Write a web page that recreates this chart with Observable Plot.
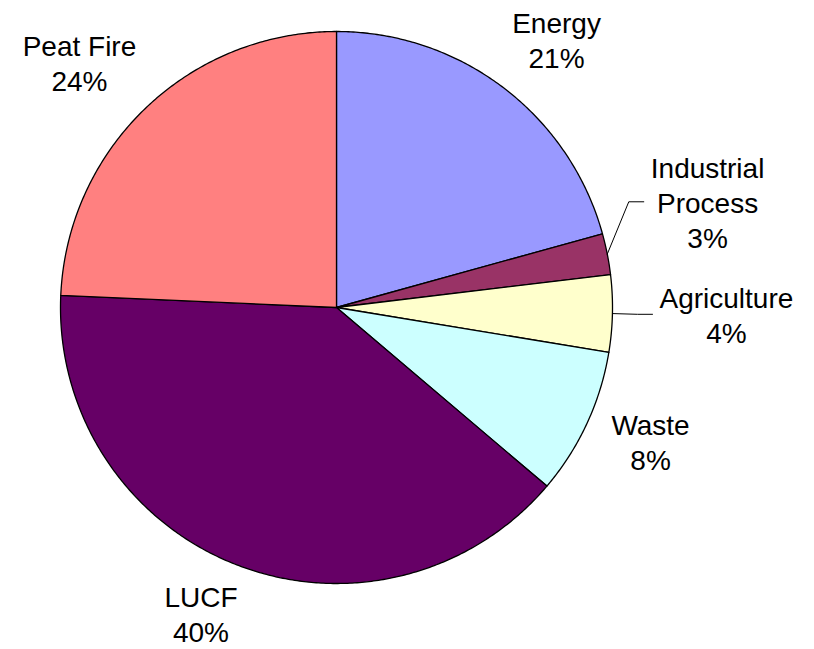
<!DOCTYPE html>
<html>
<head>
<meta charset="utf-8">
<script src="https://cdn.jsdelivr.net/npm/d3@7"></script>
<script src="https://cdn.jsdelivr.net/npm/@observablehq/plot@0.6"></script>
<style>
  html, body { margin: 0; padding: 0; background: #fff; }
  svg { display: block; }
</style>
</head>
<body>
<div id="chart"></div>
<script>
// ---- data ----
const slices = ["Energy", "Industrial\nProcess", "Agriculture", "Waste", "LUCF", "Peat Fire"];
const shares = [20.7, 2.4, 4.5, 8.6, 39.5, 24.3];
const percentLabels = ["21%", "3%", "4%", "8%", "40%", "24%"];
const colors = ["#9999FF", "#993366", "#FFFFCC", "#CCFFFF", "#660066", "#FF8080"];

// ---- layout (not data) ----
const W = 814, H = 649;
const cx = 336, cy = 307, R = 276;
const labelAngle = [39.4, 74.1, 91.0, 113.1, 203.9, 313.6];   // degrees, clockwise from 12 o'clock
const labelDist  = [1.256, 1.398, 1.413, 1.237, 1.212, 1.286]; // in radii
const hasLeader  = [false, true, true, false, false, false];
const fontSize = 28;
const fontFamily = "'Liberation Sans', Arial, Helvetica, sans-serif";

const pie = d3.pie().sort(null).value(d => d.share)(
  slices.map((name, i) => ({name, share: shares[i], i}))
);

// slice polygons in unit coordinates
const polys = [];
pie.forEach(p => {
  const i = p.data.i;
  polys.push({slice: i, x: 0, y: 0});
  const steps = Math.max(2, Math.ceil((p.endAngle - p.startAngle) / (Math.PI / 360)));
  for (let k = 0; k <= steps; k++) {
    const a = p.startAngle + (p.endAngle - p.startAngle) * k / steps;
    polys.push({slice: i, x: Math.sin(a), y: Math.cos(a)});
  }
  polys.push({slice: i, x: 0, y: 0});
});

// labels
const labels = slices.map((name, i) => {
  const a = labelAngle[i] * Math.PI / 180;
  return {i, text: name + "\n" + percentLabels[i], x: labelDist[i] * Math.sin(a), y: labelDist[i] * Math.cos(a)};
});

// measure label width
const ctx = document.createElement("canvas").getContext("2d");
ctx.font = `${fontSize}px ${fontFamily}`;

// leader lines
const leaders = [];
pie.forEach(p => {
  const i = p.data.i;
  if (!hasLeader[i]) return;
  const mid = (p.startAngle + p.endAngle) / 2;
  const lab = labels[i];
  const wmax = d3.max(lab.text.split("\n"), s => ctx.measureText(s).width);
  const endX = lab.x - (wmax / 2 + 7) / R;
  leaders.push({slice: i, x: Math.sin(mid), y: Math.cos(mid)});
  leaders.push({slice: i, x: endX - 15 / R, y: lab.y});
  leaders.push({slice: i, x: endX, y: lab.y});
});

const chart = Plot.plot({
  width: W,
  height: H,
  margin: 0,
  x: {domain: [-1, 1], range: [cx - R, cx + R], axis: null},
  y: {domain: [-1, 1], range: [cy + R, cy - R], axis: null},
  color: {domain: d3.range(slices.length), range: colors},
  marks: [
    Plot.line(polys, {x: "x", y: "y", z: "slice", fill: "slice", stroke: "#000", strokeWidth: 1.3, curve: "linear"}),
    Plot.line(leaders, {x: "x", y: "y", z: "slice", stroke: "#000", strokeWidth: 1}),
    Plot.text(labels, {x: "x", y: "y", text: "text", fontSize, fontFamily, fill: "#000",
      textAnchor: "middle", lineAnchor: "middle", lineHeight: 35 / fontSize})
  ]
});
chart.style.fontFamily = fontFamily;
document.getElementById("chart").appendChild(chart);
</script>
</body>
</html>
